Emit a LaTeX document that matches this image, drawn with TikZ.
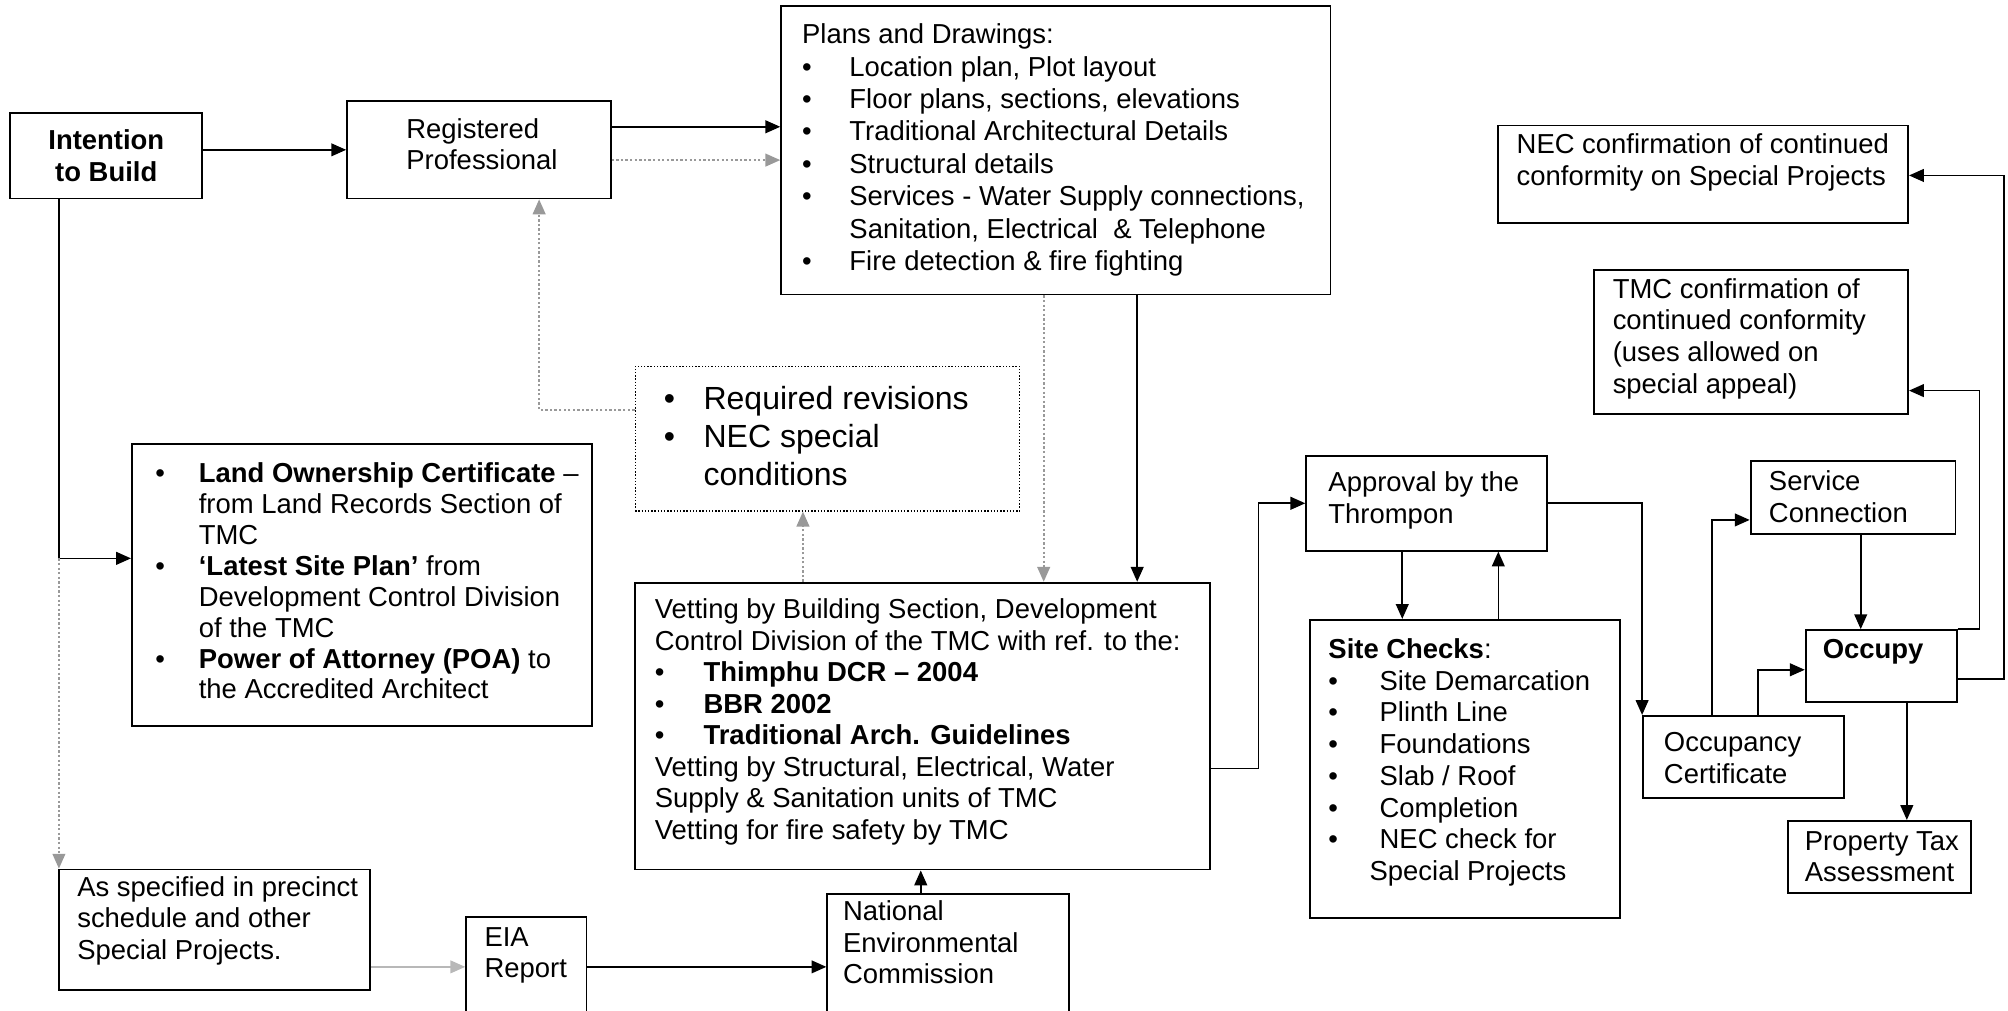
\documentclass[tikz,border=0pt]{standalone}
\usepackage{fontspec}
\setmainfont{Liberation Sans}
\usetikzlibrary{arrows.meta,fit,calc}
\newcommand\bl[1]{\makebox[#1][l]{•}}
\newcommand\tl[1]{\begin{tabular}[t]{@{}l@{}}#1\end{tabular}}
\newcommand\tc[1]{\begin{tabular}[t]{@{}c@{}}#1\end{tabular}}
\begin{document}
\begin{tikzpicture}[x=0.56pt,y=-0.56pt,
  box/.style={draw,line width=0.8pt,inner sep=0pt},
  dbox/.style={draw,line width=0.6pt,inner sep=0pt,dash pattern=on 0.6pt off 0.8pt},
  txt/.style={anchor=base west,inner sep=0pt,font=\fontsize{12}{13.8}\selectfont},
  txtb/.style={txt,font=\fontsize{12}{13.8}\selectfont\bfseries},
  con/.style={line width=0.7pt,-{Triangle[length=6.5pt,width=5.6pt]}},
  gcon/.style={con,draw=black!40,dash pattern=on 1pt off 1pt},
  lcon/.style={con,draw=black!28}]
\clip (0,0) rectangle (1568,789);
% boxes
\node[box,fit={(8,88)(158,155)}] (intent) {};
\node[box,fit={(271,79)(477,155)}] (regprof) {};
\node[box,fit={(610,5)(1039,230)}] (plans) {};
\node[box,fit={(1170,98)(1490,174)}] (necconf) {};
\node[box,fit={(1245,211)(1490,323)}] (tmcconf) {};
\node[dbox,fit={(496,286)(796,399)}] (revis) {};
\node[box,fit={(103,347)(462,567)}] (land) {};
\node[box,fit={(1020,356)(1208,430)}] (approval) {};
\node[box,fit={(1367,360)(1527,417)}] (service) {};
\node[box,fit={(496,455)(945,679)}] (vetting) {};
\node[box,fit={(1023,484)(1265,717)}] (site) {};
\node[box,fit={(1410,492)(1528,548)}] (occupy) {};
\node[box,fit={(1283,559)(1440,623)}] (occcert) {};
\node[box,fit={(1396,641)(1539,697)}] (proptax) {};
\node[box,fit={(46,679)(289,773)}] (asspec) {};
\node[box,fit={(364,716)(458,810)}] (eia) {};
\node[box,fit={(646,698)(835,810)}] (nec) {};
% texts
\node[txtb,anchor=base] (t-intent) at (83,117) {\tc{Intention\\to Build}};
\node[txt] (t-regprof) at (317,108) {\tl{Registered\\Professional}};
\node[txt,font=\fontsize{12}{14.2}\selectfont] (t-plans) at (626,34) {\tl{Plans and Drawings:\\
\bl{20.7pt}Location plan, Plot layout\\
\bl{20.7pt}Floor plans, sections, elevations\\
\bl{20.7pt}Traditional Architectural Details\\
\bl{20.7pt}Structural details\\
\bl{20.7pt}Services - Water Supply connections,\\
\hspace*{20.7pt}Sanitation, Electrical \ \& Telephone\\
\bl{20.7pt}Fire detection \& fire fighting}};
\node[txt] (t-necconf) at (1184,120) {\tl{NEC confirmation of continued\\conformity on Special Projects}};
\node[txt] (t-tmcconf) at (1259,233) {\tl{TMC confirmation of\\continued conformity\\(uses allowed on\\special appeal)}};
\node[txt,font=\fontsize{14}{16.5}\selectfont] (t-revis) at (518,320) {\tl{\bl{17.4pt}Required revisions\\
\bl{17.4pt}NEC special\\
\hspace*{17.4pt}conditions}};
\node[txt,font=\fontsize{12}{13.5}\selectfont] (t-land) at (121,377) {\tl{\bl{19pt}\textbf{Land Ownership Certificate} –\\
\hspace*{19pt}from Land Records Section of\\
\hspace*{19pt}TMC\\
\bl{19pt}\textbf{‘Latest Site Plan’} from\\
\hspace*{19pt}Development Control Division\\
\hspace*{19pt}of the TMC\\
\bl{19pt}\textbf{Power of Attorney (POA)} to\\
\hspace*{19pt}the Accredited Architect}};
\node[txt] (t-approval) at (1037,384) {\tl{Approval by the\\Thrompon}};
\node[txt] (t-service) at (1381,383) {\tl{Service\\Connection}};
\node[txt] (t-vetting) at (511,483) {\tl{Vetting by Building Section, Development\\
Control Division of the TMC with ref. to the:\\
\bl{21.3pt}\textbf{Thimphu DCR – 2004}\\
\bl{21.3pt}\textbf{BBR 2002}\\
\bl{21.3pt}\textbf{Traditional Arch. Guidelines}\\
Vetting by Structural, Electrical, Water\\
Supply \& Sanitation units of TMC\\
Vetting for fire safety by TMC}};
\node[txt,font=\fontsize{12}{13.9}\selectfont] (t-site) at (1037,514) {\tl{\textbf{Site Checks}:\\
\bl{22.4pt}Site Demarcation\\
\bl{22.4pt}Plinth Line\\
\bl{22.4pt}Foundations\\
\bl{22.4pt}Slab / Roof\\
\bl{22.4pt}Completion\\
\bl{22.4pt}NEC check for\\
\hspace*{18pt}Special Projects}};
\node[txtb] (t-occupy) at (1423,514) {Occupy};
\node[txt] (t-occcert) at (1299,587) {\tl{Occupancy\\Certificate}};
\node[txt] (t-proptax) at (1409,664) {\tl{Property Tax\\Assessment}};
\node[txt] (t-asspec) at (60,700) {\tl{As specified in precinct\\schedule and other\\Special Projects.}};
\node[txt] (t-eia) at (378,739) {\tl{EIA\\Report}};
\node[txt] (t-nec) at (658,719) {\tl{National\\Environmental\\Commission}};
% connectors
\draw[con] (intent.east |- regprof.west) -- (regprof.west);
\draw[con] (regprof.east |- 0,99) -- (plans.west |- 0,99);
\draw[gcon] (regprof.east |- 0,125) -- (plans.west |- 0,125);
\draw[con] (plans.south -| 888,0) -- (vetting.north -| 888,0);
\draw[gcon] (plans.south -| 815,0) -- (vetting.north -| 815,0);
\draw[gcon] (vetting.north -| 627,0) -- (revis.south -| 627,0);
\draw[gcon] (revis.west |- 0,320) -| (regprof.south -| 421,0);
\coordinate (jn) at (46,436);
\draw[con] (intent.south -| jn) |- (land.west |- jn);
\draw[gcon] (jn) -- (asspec.north -| jn);
\draw[lcon] (asspec.east |- 0,755) -- (eia.west |- 0,755);
\draw[con] (eia.east |- 0,755) -- (nec.west |- 0,755);
\draw[con] (nec.north -| 719,0) -- (vetting.south -| 719,0);
\draw[con] (vetting.east |- 0,600) -- ++(37,0) |- (approval.west);
\draw[con] (approval.south -| 1095,0) -- (site.north -| 1095,0);
\draw[con] (site.north -| 1170,0) -- (approval.south -| 1170,0);
\draw[con] (approval.east) -| (occcert.north west);
\draw[con] (occcert.north -| 1337,0) |- (service.west |- 0,406);
\draw[con] (occcert.north -| 1373,0) |- (occupy.west |- 0,523);
\draw[con] (service.south -| 1453,0) -- (occupy.north -| 1453,0);
\draw[con] (occupy.east |- 0,530) -- ++(36,0) |- (necconf.east |- 0,137);
\draw[con] (occupy.north east) -- ++(17,0) |- (tmcconf.east |- 0,305);
\draw[con] (occupy.south -| 1489,0) -- (proptax.north -| 1489,0);
\end{tikzpicture}
\end{document}
